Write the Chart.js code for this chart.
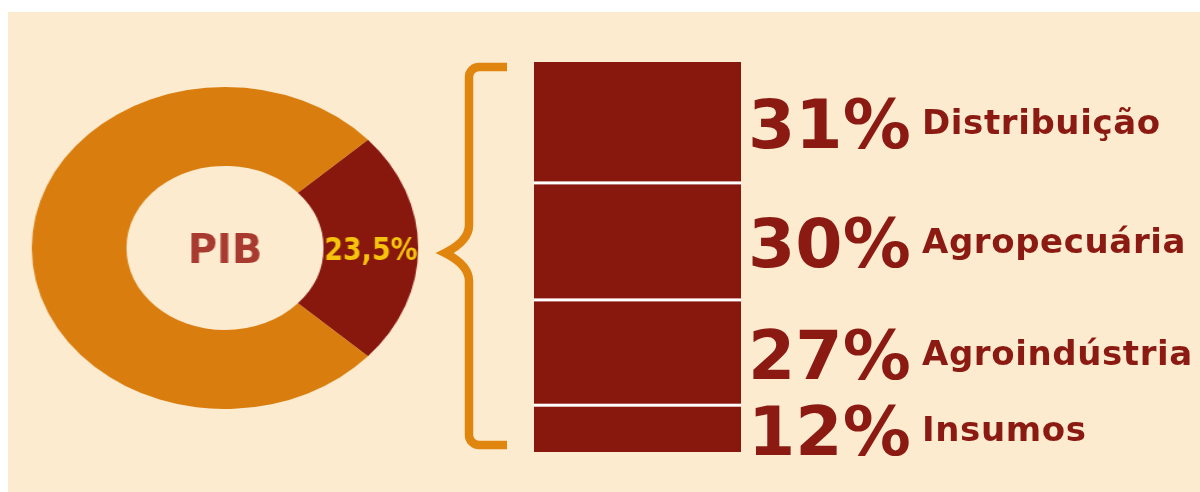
<!DOCTYPE html>
<html>
<head>
<meta charset="utf-8">
<script src="https://cdn.jsdelivr.net/npm/chart.js@4/dist/chart.umd.min.js"></script>
<style>
  html, body { margin: 0; padding: 0; background: #fff; }
  body { width: 1200px; height: 492px; position: relative; overflow: hidden; }
  .panel { position: absolute; left: 8px; top: 12px; right: 0; bottom: 0; background: #fdebcf; }
  #barWrap { position: absolute; left: 0; top: 0; width: 1200px; height: 492px; }
  /* the doughnut is an ellipse in the picture, so the canvas is stretched sideways */
  #pieWrap { position: absolute; left: 64px; top: 87px; width: 322px; height: 322px;
             transform: scaleX(1.2); transform-origin: 50% 50%; }
</style>
</head>
<body>
<div class="panel"></div>
<div id="barWrap"><canvas id="barChart"></canvas></div>
<div id="pieWrap"><canvas id="pieChart"></canvas></div>

<script>
// dados
const pibLabels = ['Agronegócio', 'Outros'];
const pibShares = [23.5, 76.5];
const pibCenterText = 'PIB';

const categories = ['Distribuição', 'Agropecuária', 'Agroindústria', 'Insumos'];
const shares = [31, 30, 27, 12];

const darkRed = '#88170d';
const orange = '#d97d0e';
const braceOrange = '#e0860f';
const textRed = '#8a1a12';
const fontFam = '"DejaVu Sans", sans-serif';
const stretch = 1.2;

const fmt = v => String(v).replace('.', ',') + '%';

// texto dentro do donut (desfaz o esticamento do canvas)
const pieText = {
  id: 'pieText',
  afterDraw(chart) {
    const ctx = chart.ctx;
    const area = chart.chartArea;
    const cx = (area.left + area.right) / 2;
    const cy = (area.top + area.bottom) / 2;

    ctx.save();
    ctx.translate(cx, cy);
    ctx.scale(1 / stretch, 1);
    ctx.fillStyle = '#a83a2f';
    ctx.font = 'bold 40px ' + fontFam;
    ctx.textAlign = 'center';
    ctx.textBaseline = 'alphabetic';
    ctx.fillText(pibCenterText, 0, 15);
    ctx.restore();

    const arc = chart.getDatasetMeta(0).data[0];
    const p = arc.tooltipPosition();
    ctx.save();
    ctx.translate(p.x, p.y);
    ctx.scale(0.84 / stretch, 1);
    ctx.fillStyle = '#f6c30c';
    ctx.font = 'bold 32px ' + fontFam;
    ctx.textAlign = 'center';
    ctx.textBaseline = 'alphabetic';
    ctx.fillText(fmt(pibShares[0]), 0, 12);
    ctx.restore();
  }
};

new Chart(document.getElementById('pieChart'), {
  type: 'doughnut',
  data: {
    labels: pibLabels,
    datasets: [{
      data: pibShares,
      backgroundColor: [darkRed, orange],
      borderWidth: 0
    }]
  },
  options: {
    responsive: true,
    maintainAspectRatio: false,
    animation: false,
    events: [],
    cutout: '51%',
    rotation: 90 - pibShares[0] * 1.8,
    layout: { padding: 0 },
    plugins: { legend: { display: false }, tooltip: { enabled: false } }
  },
  plugins: [pieText]
});

// chave laranja + rótulos + separadores brancos
const barExtras = {
  id: 'barExtras',
  afterDatasetsDraw(chart) {
    const ctx = chart.ctx;
    const area = chart.chartArea;

    // separadores
    ctx.save();
    ctx.fillStyle = '#ffffff';
    for (let i = 0; i < categories.length - 1; i++) {
      const el = chart.getDatasetMeta(i).data[0];
      const bottom = Math.max(el.y, el.base);
      ctx.fillRect(area.left, bottom - 1.5, area.right - area.left, 3);
    }
    ctx.restore();

    // rótulos
    ctx.save();
    ctx.fillStyle = textRed;
    ctx.textAlign = 'left';
    ctx.textBaseline = 'alphabetic';
    categories.forEach((cat, i) => {
      const el = chart.getDatasetMeta(i).data[0];
      const mid = (el.y + el.base) / 2;
      ctx.letterSpacing = '0px';
      ctx.font = 'bold 68px ' + fontFam;
      ctx.fillText(shares[i] + '%', area.right + 7, mid + 26);
      ctx.letterSpacing = '0.6px';
      ctx.font = 'bold 34px ' + fontFam;
      ctx.fillText(cat, area.right + 181, mid + 12);
    });
    ctx.restore();

    // chave
    const bx = area.left - 65;
    const armX = area.left - 27;
    const top = area.top + 5;
    const bot = area.bottom - 7;
    const mid = (top + bot) / 2 - 3;
    const r = 10;
    ctx.save();
    ctx.strokeStyle = braceOrange;
    ctx.lineWidth = 8.5;
    ctx.lineJoin = 'miter';
    ctx.beginPath();
    ctx.moveTo(armX, top);
    ctx.lineTo(bx + r, top);
    ctx.arcTo(bx, top, bx, top + r, r);
    ctx.lineTo(bx, mid - 28);
    ctx.quadraticCurveTo(bx, mid - 12, bx - 24, mid);
    ctx.quadraticCurveTo(bx, mid + 12, bx, mid + 28);
    ctx.lineTo(bx, bot - r);
    ctx.arcTo(bx, bot, bx + r, bot, r);
    ctx.lineTo(armX, bot);
    ctx.stroke();
    ctx.restore();
  }
};

new Chart(document.getElementById('barChart'), {
  type: 'bar',
  data: {
    labels: ['PIB do agronegócio'],
    datasets: categories.map((cat, i) => ({
      label: cat,
      data: [shares[i]],
      backgroundColor: darkRed,
      borderWidth: 0,
      barPercentage: 1,
      categoryPercentage: 1
    }))
  },
  options: {
    responsive: true,
    maintainAspectRatio: false,
    animation: false,
    events: [],
    layout: { padding: { left: 534, right: 459, top: 62, bottom: 40 } },
    scales: {
      x: { stacked: true, display: false },
      y: { stacked: true, display: false, min: 0, max: 100, reverse: true }
    },
    plugins: { legend: { display: false }, tooltip: { enabled: false } }
  },
  plugins: [barExtras]
});
</script>
</body>
</html>
